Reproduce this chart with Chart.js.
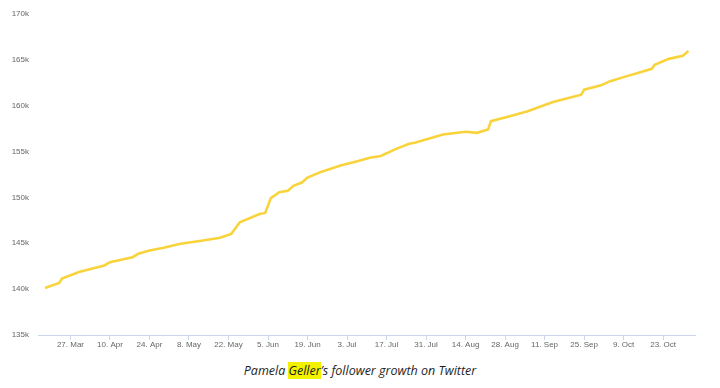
<!DOCTYPE html>
<html>
<head>
<meta charset="utf-8">
<script src="https://cdn.jsdelivr.net/npm/chart.js@4"></script>
<style>
  html, body { margin: 0; padding: 0; background: #fff; }
  #wrap { position: relative; width: 720px; height: 388px; }
  #box { position: absolute; left: 0; top: 0; width: 720px; height: 358px; }
  #caption {
    position: absolute; left: 0; top: 362px; width: 720px; text-align: center;
    font-family: "Open Sans", sans-serif; font-style: italic; font-size: 12.5px; color: #1e1e1e;
  }
  #caption span { background: #f2f200; }
</style>
</head>
<body>
<div id="wrap">
  <div id="box"><canvas id="my-chart"></canvas></div>
  <div id="caption">Pamela <span>Geller</span>’s follower growth on Twitter</div>
</div>
<script>
// dates and follower counts (2017)
const dates = ['2017-03-18', '2017-03-23', '2017-03-24', '2017-03-30', '2017-04-08', '2017-04-10',
  '2017-04-18', '2017-04-20', '2017-04-24', '2017-04-29', '2017-05-05', '2017-05-13', '2017-05-19',
  '2017-05-23', '2017-05-26', '2017-06-02', '2017-06-04', '2017-06-06', '2017-06-09', '2017-06-12',
  '2017-06-14', '2017-06-17', '2017-06-19', '2017-06-24', '2017-07-01', '2017-07-07', '2017-07-11',
  '2017-07-15', '2017-07-20', '2017-07-25', '2017-07-27', '2017-08-06', '2017-08-14', '2017-08-18',
  '2017-08-22', '2017-08-23', '2017-08-31', '2017-09-05', '2017-09-14', '2017-09-24', '2017-09-25',
  '2017-10-01', '2017-10-04', '2017-10-09', '2017-10-14', '2017-10-19', '2017-10-20', '2017-10-25',
  '2017-10-30', '2017-11-01'];
const followers = [140130, 140670, 141140, 141860, 142580, 142940,
  143480, 143850, 144210, 144500, 144940, 145290, 145590,
  146020, 147280, 148190, 148300, 149920, 150550, 150710,
  151250, 151610, 152150, 152800, 153500, 153960, 154320,
  154500, 155230, 155840, 155950, 156850, 157140, 157030,
  157400, 158300, 158950, 159380, 160390, 161190, 161730,
  162200, 162630, 163100, 163550, 164010, 164440, 165090,
  165420, 165960];

const tickDates = ['2017-03-27', '2017-04-10', '2017-04-24', '2017-05-08', '2017-05-22', '2017-06-05',
  '2017-06-19', '2017-07-03', '2017-07-17', '2017-07-31', '2017-08-14', '2017-08-28', '2017-09-11',
  '2017-09-25', '2017-10-09', '2017-10-23'];
const tickLabels = ['27. Mar', '10. Apr', '24. Apr', '8. May', '22. May', '5. Jun',
  '19. Jun', '3. Jul', '17. Jul', '31. Jul', '14. Aug', '28. Aug', '11. Sep',
  '25. Sep', '9. Oct', '23. Oct'];

const DAY = 86400000;
const toMs = d => Date.parse(d + 'T00:00:00Z');

const points = dates.map((d, i) => ({ x: toMs(d), y: followers[i] }));
const xMin = toMs('2017-03-27') - 11.5 * DAY;
const xMax = toMs('2017-10-23') + 11.3 * DAY;

const ctx = document.getElementById('my-chart').getContext('2d');

const chart = new Chart(ctx, {
  type: 'line',
  data: {
    datasets: [{
      data: points,
      borderColor: '#f9d33c',
      borderWidth: 2.6,
      pointRadius: 0,
      tension: 0,
      fill: false
    }]
  },
  options: {
    responsive: true,
    maintainAspectRatio: false,
    animation: false,
    layout: { padding: { top: 5, right: 25, left: 0, bottom: 0 } },
    plugins: { legend: { display: false }, tooltip: { enabled: false } },
    scales: {
      x: {
        type: 'linear',
        min: xMin,
        max: xMax,
        afterBuildTicks: scale => {
          scale.ticks = tickDates.map(d => ({ value: toMs(d) }));
        },
        afterFit: scale => { scale.height = 23; },
        grid: { drawOnChartArea: false, color: '#ccd6eb', tickLength: 5 },
        border: { color: '#ccd6eb' },
        ticks: {
          autoSkip: false,
          maxRotation: 0,
          padding: 0,
          color: '#666',
          font: { family: 'Liberation Sans, Arial', size: 8 },
          callback: (v, i) => tickLabels[i]
        }
      },
      y: {
        min: 135000,
        max: 170000,
        afterFit: scale => { scale.width = 38; },
        grid: { display: false, drawTicks: false },
        border: { display: false },
        ticks: {
          stepSize: 5000,
          padding: 9,
          color: '#666',
          font: { family: 'Liberation Sans, Arial', size: 8 },
          callback: v => (v / 1000) + 'k'
        }
      }
    }
  }
});
</script>
</body>
</html>
